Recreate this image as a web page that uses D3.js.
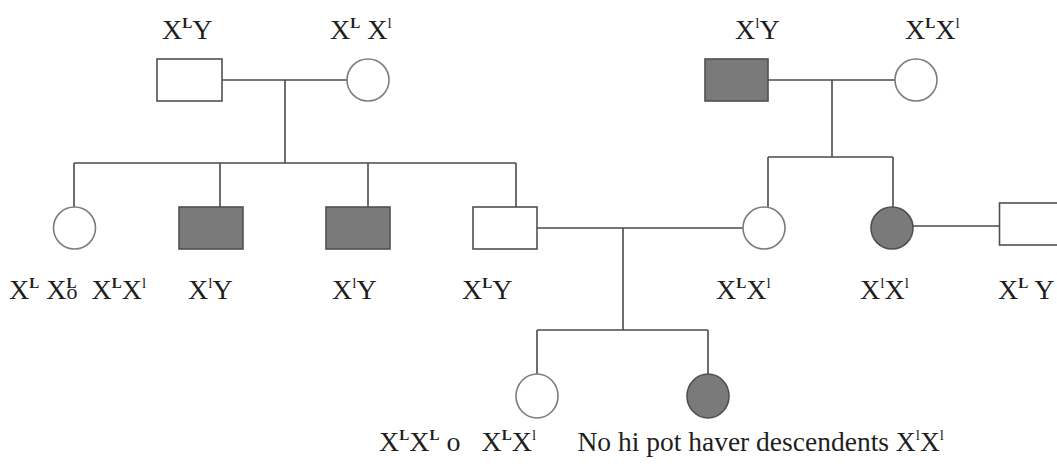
<!DOCTYPE html>
<html>
<head>
<meta charset="utf-8">
<script src="https://cdn.jsdelivr.net/npm/d3@7"></script>
<style>
  html, body { margin: 0; padding: 0; background: #fff; }
  svg { display: block; }
  text { font-family: "Liberation Serif", "Times New Roman", serif; fill: #1e1e1e; white-space: pre; }
</style>
</head>
<body>
<svg id="chart" width="1057" height="466"></svg>
<script>
// ---------- DATA ----------
// individuals of the pedigree
const ids         = ["I-1","I-2","I-3","I-4","II-1","II-2","II-3","II-4","II-5","II-6","II-7","III-1","III-2"];
const generations = ["I","I","I","I","II","II","II","II","II","II","II","III","III"];
const columns     = [189.5, 368, 736.5, 916, 74.5, 211, 358, 505, 764, 892, 1032, 537, 708];
const sexes       = ["M","F","M","F","F","M","M","M","F","F","M","F","F"];
const affected    = [false,false,true,false,false,true,true,false,false,true,false,false,true];

// couples [father, mother]
const couples = [["I-1","I-2"],["I-3","I-4"],["II-4","II-5"],["II-7","II-6"]];
// sibships: parents couple index and children
const sibParents  = [0, 1, 2];
const sibChildren = [["II-1","II-2","II-3","II-4"],["II-5","II-6"],["III-1","III-2"]];

// genotype labels: tokens [text, mode] ; mode: "" normal, "sup", "supb" (bold sup), "under" (set under previous sup), "note"
const labelTokens = [
  [["X",""],["L","supb"],["Y",""]],
  [["X",""],["L","supb"],[" X",""],["l","sup"]],
  [["X",""],["l","sup"],["Y",""]],
  [["X",""],["L","supb"],["X",""],["l","sup"]],
  [["X",""],["L","supb"],[" X",""],["L","supb"],["o","under"],["  X",""],["L","supb"],["X",""],["l","sup"]],
  [["X",""],["l","sup"],["Y",""]],
  [["X",""],["l","sup"],["Y",""]],
  [["X",""],["L","supb"],["Y",""]],
  [["X",""],["L","supb"],["X",""],["l","sup"]],
  [["X",""],["l","sup"],["X",""],["l","sup"]],
  [["X",""],["L","supb"],[" Y",""]],
  [["X",""],["L","supb"],["X",""],["L","supb"],[" o",""],["   X",""],["L","supb"],["X",""],["l","sup"],["      No hi pot haver descendents X","note"],["l","sup"],["X","note"],["l","sup"]]
];
const labelColumns = [162, 330, 735, 905, 9, 188, 332, 462, 716, 860, 998, 379];
const labelRows    = ["I","I","I","I","II","II","II","II","II","II","II","III"];

// ---------- LAYOUT ----------
const svg = d3.select("#chart");
const x = d3.scaleLinear().domain([0, 1057]).range([0, 1057]);
const y = d3.scaleOrdinal().domain(["I","II","III"]).range([80, 228, 396]);
const labelY = d3.scaleOrdinal().domain(["I","II","III"]).range([39, 299, 451]);

const people = ids.map((id, i) => ({
  id, gen: generations[i], cx: x(columns[i]), cy: y(generations[i]),
  sex: sexes[i], aff: affected[i]
}));
const byId = Object.fromEntries(people.map(p => [p.id, p]));
const sqW = {"I-1":65,"I-3":63,"II-2":64,"II-3":64,"II-4":64,"II-7":65};
const sqDy = {"II-7":-4};
const R = 21;

const lineCol = "#4a4a4a";
const gLines = svg.append("g").attr("stroke", lineCol).attr("stroke-width", 1.6).attr("fill", "none");

function edgeX(p, side) {
  const half = p.sex === "M" ? (sqW[p.id] || 64) / 2 : R;
  return side === "r" ? p.cx + half : p.cx - half;
}
function symTop(p) { return p.sex === "M" ? p.cy - 21 + (sqDy[p.id] || 0) : p.cy - R - (p.gen === "III" ? 1 : 0); }

const coupleGeom = couples.map(([a, b]) => {
  const pa = byId[a], pb = byId[b];
  const left = pa.cx < pb.cx ? pa : pb, right = pa.cx < pb.cx ? pb : pa;
  const yy = (pa.cy + (sqDy[pa.id] || 0) + pb.cy + (sqDy[pb.id] || 0)) / 2;
  return { x1: edgeX(left, "r"), x2: edgeX(right, "l"), y: yy };
});
gLines.selectAll("line.marriage").data(coupleGeom).join("line")
  .attr("x1", d => d.x1).attr("x2", d => d.x2).attr("y1", d => d.y).attr("y2", d => d.y);

const dropX    = [285, 832, 623];
const sibY     = [163, 157, 330];
const childDrop = [[74, 220, 368, 516], [768, 893], [537, 708]];
sibParents.forEach((ci, s) => {
  const c = coupleGeom[ci];
  const kids = sibChildren[s].map(id => byId[id]);
  const xs = childDrop[s];
  gLines.append("line").attr("x1", dropX[s]).attr("x2", dropX[s]).attr("y1", c.y).attr("y2", sibY[s]);
  gLines.append("line").attr("x1", d3.min(xs)).attr("x2", d3.max(xs)).attr("y1", sibY[s]).attr("y2", sibY[s]);
  kids.forEach((k, j) => {
    gLines.append("line").attr("x1", xs[j]).attr("x2", xs[j]).attr("y1", sibY[s]).attr("y2", symTop(k) + 1);
  });
});

const fillAff = "#7a7a7a";
const gSym = svg.append("g");
gSym.selectAll("rect").data(people.filter(p => p.sex === "M")).join("rect")
  .attr("x", p => p.cx - (sqW[p.id] || 64) / 2)
  .attr("y", p => p.cy - 21 + (sqDy[p.id] || 0))
  .attr("width", p => sqW[p.id] || 64).attr("height", 42)
  .attr("fill", p => p.aff ? fillAff : "#fff")
  .attr("stroke", "#505050").attr("stroke-width", 1.6);
gSym.selectAll("ellipse").data(people.filter(p => p.sex === "F")).join("ellipse")
  .attr("cx", p => p.cx).attr("cy", p => p.cy)
  .attr("rx", R).attr("ry", p => p.gen === "III" ? 22 : R)
  .attr("fill", p => p.aff ? fillAff : "#fff")
  .attr("stroke", p => p.aff ? "#505050" : "#7c7c7c").attr("stroke-width", 1.6);

const FS = 28;
const gLab = svg.append("g");
labelTokens.forEach((toks, i) => {
  const t = gLab.append("text")
    .attr("x", x(labelColumns[i])).attr("y", labelY(labelRows[i]))
    .attr("font-size", FS);
  let shift = 0;
  toks.forEach(([txt, mode]) => {
    const sp = t.append("tspan").text(txt);
    let target = 0;
    if (mode === "sup" || mode === "supb") {
      target = -11; sp.attr("font-size", 15);
      if (mode === "supb") sp.attr("font-weight", "bold");
    } else if (mode === "under") {
      target = 0; sp.attr("font-size", 22).attr("dx", -10);
    } else if (mode === "note") {
      sp.attr("font-size", 27.5);
    }
    sp.attr("dy", target - shift);
    shift = target;
  });
});
</script>
</body>
</html>
